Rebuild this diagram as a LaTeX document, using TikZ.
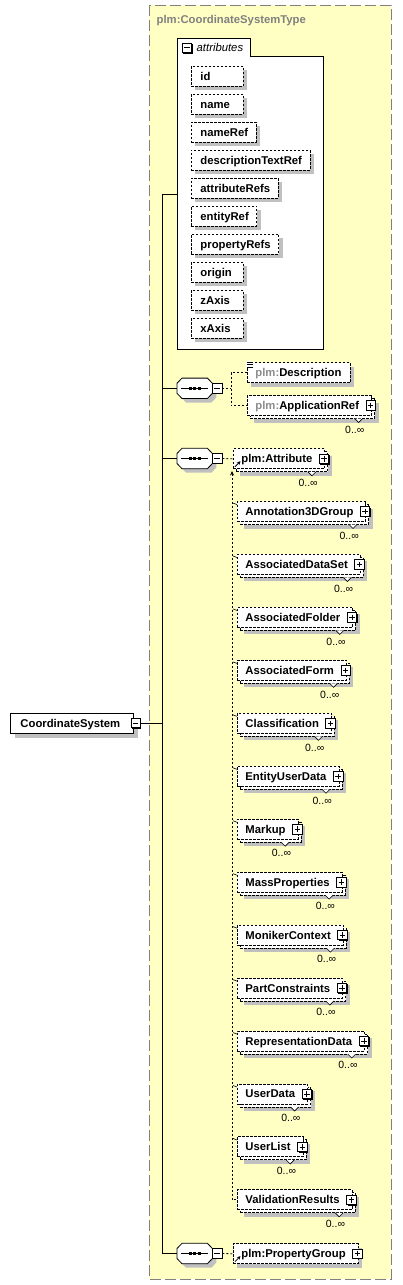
\documentclass[tikz,border=0pt]{standalone}
\usepackage{fontspec}
\setmainfont{Liberation Sans}
\usetikzlibrary{calc,arrows.meta}
\definecolor{ybg}{RGB}{255,255,196}
\definecolor{ybd}{RGB}{128,128,128}
\definecolor{shd}{RGB}{192,192,192}
\definecolor{pfx}{RGB}{140,140,140}
\newcommand\padmin[1]{\setbox0\hbox{#1}\ifdim\wd0<35pt \wd0=35pt\fi\box0}
\newcommand\pfxt[1]{\textcolor{pfx}{#1}}
\tikzset{
  x=1pt, y=-1pt,
  dsh/.style={dash pattern=on 2.5pt off 1.5pt},
  elbase/.style={anchor=west, inner sep=0pt, minimum height=20pt, text height=9pt, text depth=1pt,
    font=\fontsize{11.3}{13}\selectfont\bfseries, fill=white, draw, line width=0.9pt, dsh},
  attrbox/.style={elbase, preaction={draw=none, fill=shd, transform canvas={shift={(4pt,-4pt)}}}},
  single/.style={elbase, preaction={draw=none, fill=shd, transform canvas={shift={(4pt,-4pt)}}}},
  stacked/.style={elbase,
     preaction={draw=none, fill=shd, transform canvas={shift={(7pt,-7pt)}}},
     preaction={draw, fill=white, dsh, transform canvas={shift={(3pt,-3pt)}}}},
  pm/.style={draw, fill=white, line width=0.8pt, inner sep=0pt, minimum size=9.5pt, solid,
     preaction={draw=none, fill=black, transform canvas={shift={(1pt,-1pt)}}}},
  plusbox/.style={pm, path picture={\draw[line width=0.8pt]
      ([xshift=2pt]path picture bounding box.west) -- ([xshift=-2pt]path picture bounding box.east)
      ([yshift=-2pt]path picture bounding box.north) -- ([yshift=2pt]path picture bounding box.south);}},
  minusbox/.style={pm, path picture={\draw[line width=0.8pt]
      ([xshift=2pt]path picture bounding box.west) -- ([xshift=-2pt]path picture bounding box.east);}},
  occ/.style={anchor=east, inner sep=0pt, font=\fontsize{10.5}{12}\selectfont, text height=7.5pt, text depth=0pt},
  conn/.style={line width=0.8pt, dash pattern=on 2pt off 2pt},
  trunk/.style={line width=0.8pt},
  seqn/.style={anchor=west, minimum width=35pt, minimum height=20pt, inner sep=0pt},
  refarrow/.style={solid, line width=0.8pt, -{Stealth[length=3.5pt,width=3.5pt]}},
}
\newcommand\octdraw[2]{\path[#2] ([yshift=5pt]#1.west) -- ([xshift=5pt]#1.north west) -- ([xshift=-5pt]#1.north east) -- ([yshift=5pt]#1.east) -- ([yshift=-5pt]#1.east) -- ([xshift=-5pt]#1.south east) -- ([xshift=5pt]#1.south west) -- ([yshift=-5pt]#1.west) -- cycle;}
\newcommand\seqsym[3]{%
  \node[seqn] (#1) at (#2,#3) {};
  \octdraw{#1}{fill=shd, transform canvas={shift={(4pt,-4pt)}}}
  \octdraw{#1}{draw, fill=white, line width=0.8pt}
  \draw[line width=0.6pt] ([xshift=4pt]#1.west) -- ([xshift=-4pt]#1.east);
  \foreach \dx in {-4.4,0,4.4} \fill ([xshift=\dx pt]#1.center) +(-1.4pt,-1.4pt) rectangle +(1.4pt,1.4pt);
  \node[minusbox] (#1m) at ([xshift=4.75pt]#1.east) {};
}
\newcommand\plusocc[1]{%
  \node[plusbox] (#1p) at ([xshift=-1.25pt]#1.east) {};
  \node[occ] (#1o) at ([xshift=-1pt,yshift=-24pt]#1p.west) {0..∞};
  \filldraw[fill=white, line width=0.6pt] ([xshift=-11pt,yshift=-13pt]#1p.west) -- ([xshift=-7pt,yshift=-17pt]#1p.west) -- ([xshift=-3pt,yshift=-13pt]#1p.west);
}
\newcommand\member[4]{%
  \node[stacked] (#1) at (#2,#3) {\hspace*{8pt}#4\hspace*{12.5pt}};
  \plusocc{#1}
}
\begin{document}
\begin{tikzpicture}
\useasboundingbox (0,0) rectangle (402,1285);
% complex type container
\draw[ybd, fill=ybg, line width=1pt, dash pattern=on 11pt off 4pt] (149,5) rectangle (391,1279);
\node[anchor=west, inner sep=0pt, text height=9pt, text depth=1pt, font=\fontsize{11.3}{13}\selectfont\bfseries, text=ybd] (title) at (156.5,19.3) {plm:CoordinateSystemType};
% attributes box
\filldraw[fill=white, line width=0.8pt] (177,38) -- (250,38) -- (250,56) -- (323,56) -- (323,349) -- (177,349) -- cycle;
\node[minusbox] (am) at (187,47.8) {};
\node[anchor=west, inner sep=0pt, text height=9pt, text depth=1pt, font=\fontsize{11.3}{13}\selectfont\itshape] (atitle) at (196.5,47.7) {attributes};
\foreach \t [count=\i from 0] in {id,name,nameRef,descriptionTextRef,attributeRefs,entityRef,propertyRefs,origin,zAxis,xAxis}
  \node[attrbox] (a\i) at (191,76+28*\i) {\hspace*{9pt}\padmin{\t}\hspace*{8pt}};
\coordinate (attrL) at (177,194);
% root element
\node[elbase, solid, preaction={draw=none, fill=shd, transform canvas={shift={(4.5pt,-4.5pt)}}}] (cs) at (10,723) {\hspace*{10pt}CoordinateSystem\hspace*{13pt}};
\node[minusbox] (csm) at ([xshift=2pt]cs.east) {};
% trunk
\coordinate (tt) at (162,194);
\coordinate (tb) at (162,1253.5);
% sequences
\seqsym{s1}{177}{388.3}
\seqsym{s2}{177}{458.5}
\seqsym{s3}{177}{1253.5}
\draw[trunk] (csm.east) -- (csm.east -| tt);
\draw[trunk] (tt) -- (tb) -- (s3.west);
\draw[trunk] (tt) -- (attrL);
\draw[trunk] (s1.west -| tt) -- (s1.west);
\draw[trunk] (s2.west -| tt) -- (s2.west);
% sequence 1
\node[single] (desc) at (247,372.5) {\hspace*{8pt}\pfxt{plm:}Description\hspace*{9pt}};
\fill[white] ([xshift=-1.5pt,yshift=1pt]desc.north west) rectangle ([xshift=6.5pt,yshift=-6pt]desc.north west);
\draw[line width=0.7pt] ([xshift=-0.5pt,yshift=0pt]desc.north west) -- ([xshift=5.5pt,yshift=0pt]desc.north west)
  ([xshift=-0.5pt,yshift=-2.5pt]desc.north west) -- ([xshift=5.5pt,yshift=-2.5pt]desc.north west)
  ([xshift=-0.5pt,yshift=-5pt]desc.north west) -- ([xshift=5.5pt,yshift=-5pt]desc.north west);
\member{appref}{247}{405.5}{\pfxt{plm:}ApplicationRef}
\coordinate (j1) at (231,388.3);
\draw[conn] (s1m.east) -- (j1);
\draw[conn] (desc.west) -- (desc.west -| j1) -- (appref.west -| j1) -- (appref.west);
% sequence 2: substitution group
\member{attr}{233}{458.8}{plm:Attribute}
\draw[refarrow] ([xshift=2pt,yshift=2.5pt]attr.south west) -- ([xshift=7.5pt,yshift=8pt]attr.south west);
\draw[conn] (s2m.east) -- (attr.west);
\foreach \n [count=\i from 0] in {Annotation3DGroup,AssociatedDataSet,AssociatedFolder,AssociatedForm,Classification,EntityUserData,Markup,MassProperties,MonikerContext,PartConstraints,RepresentationData,UserData,UserList,ValidationResults}{
  \member{m\i}{237}{511.5+52.95*\i}{\n}
  \ifnum\i<13
    \draw[line width=0.6pt] ([xshift=-4pt,yshift=-2pt]m\i.north west) -- ([yshift=-3.5pt]m\i.north west);
  \fi
}
\coordinate (vtop) at (232,471);
\draw[conn, {Stealth[length=4.5pt,width=4pt]}-] (vtop) -- (vtop |- m13.west) -- (m13.west);
% sequence 3
\node[single] (pgrp) at (233,1253.7) {\hspace*{8pt}plm:PropertyGroup\hspace*{12.5pt}};
\node[plusbox] (pgrpp) at ([xshift=-1.25pt]pgrp.east) {};
\draw[refarrow] ([xshift=2pt,yshift=2.5pt]pgrp.south west) -- ([xshift=7.5pt,yshift=8pt]pgrp.south west);
\draw[conn] (s3m.east) -- (pgrp.west);
\end{tikzpicture}
\end{document}
